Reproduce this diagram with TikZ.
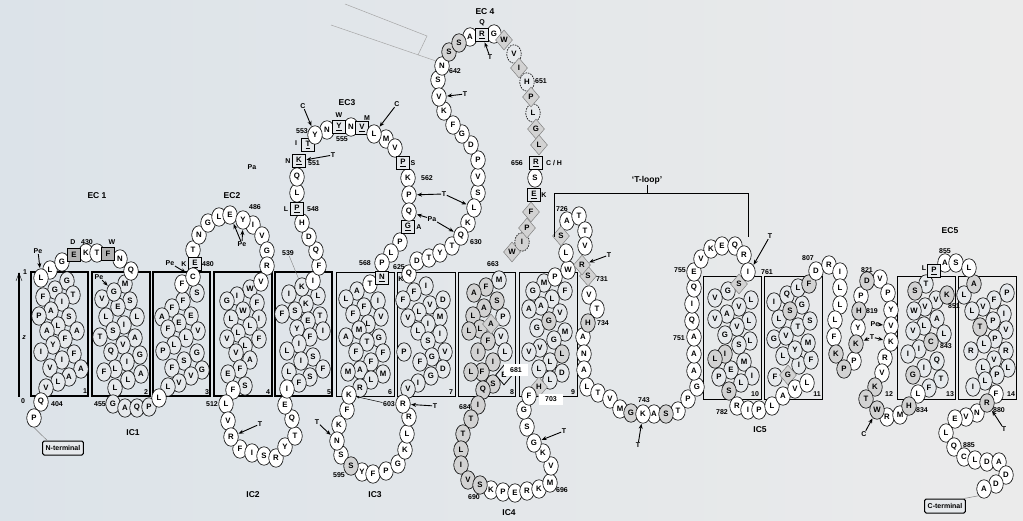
\documentclass[tikz,border=0pt]{standalone}
\usepackage{fontspec}
\setmainfont{Liberation Sans}
\usetikzlibrary{shapes.geometric,arrows.meta}
\definecolor{bgleft}{HTML}{DCE3E9}
\definecolor{bgright}{HTML}{EBEBEB}
\definecolor{resfill}{HTML}{E6E9EC}
\definecolor{resgray}{HTML}{D2D2D2}
\newcommand\resfont{\fontsize{7.8}{8}\selectfont\bfseries}
\newcommand\labfont{\fontsize{7}{8}\selectfont\bfseries}
\newcommand\ttlfont{\fontsize{8.5}{9}\selectfont\bfseries}
\tikzset{
  res/.style={ellipse, draw, line width=0.6pt, fill=resfill, minimum width=14.5pt, minimum height=18.5pt, inner sep=0pt, font=\resfont},
  wres/.style={res, fill=white},
  gres/.style={res, fill=resgray},
  dres/.style={res, dash pattern=on 1.6pt off 1pt},
  gdres/.style={gres, dash pattern=on 1.6pt off 1pt},
  dia/.style={diamond, draw=gray, fill=resgray, line width=0.5pt, minimum width=17pt, minimum height=20pt, inner sep=0pt, font=\resfont},
  bdia/.style={dia, draw=black, fill=resfill, line width=0.8pt},
  sqres/.style={rectangle, draw, line width=0.9pt, fill=resfill, minimum size=13pt, inner sep=0pt, font=\resfont},
  dsqres/.style={sqres, line width=1.8pt, fill=gray!60},
  lab/.style={font=\labfont, inner sep=0.5pt},
  ttl/.style={font=\ttlfont, inner sep=1pt},
  helix/.style={draw, line width=2pt},
  thinhelix/.style={draw, line width=0.9pt},
  arr/.style={-{Stealth[length=5pt,width=4pt]}, line width=0.9pt, shorten >=0.5pt},
  tbox/.style={draw, line width=1pt, rounded corners=1.5pt, font=\labfont, minimum height=14pt, inner xsep=3pt, fill=resfill}
}
\begin{document}
\begin{tikzpicture}[x=1pt,y=-1pt]
\fill[left color=bgleft, right color=bgright] (0,0) rectangle (1023,521);
\useasboundingbox (0,0) rectangle (1023,521);

% membrane axis and helix boxes
\draw[line width=1.6pt] (19,273) -- (19,397);
\draw[line width=0.4pt] (16,281) -- (19,273) -- (22,281);
\node[lab] (ax1) at (25,272) {1};
\node[lab] (axz) at (24,338) {\textit{z}};
\node[lab] (ax0) at (23,401) {0};
\foreach \xa/\xb in {31/88, 92/150, 153/210, 214/272, 275/332}
  \draw[helix] (\xa,272) rectangle (\xb,396);
\foreach \xa/\xb in {336/394, 397/455, 458/515, 519/577}
  \draw[thinhelix] (\xa,272) rectangle (\xb,396);
\foreach \xa/\xb in {703/761, 764/822, 897/955, 958/1016}
  \draw[thinhelix] (\xa,276) rectangle (\xb,399);
\foreach \xx/\yy/\txt [count=\i] in {85/391/1, 146/392/2, 207/392/3, 268/392/4, 329/392/5,
    390/392/6, 451/392/7, 512/392/8, 573/392/9, 755/394/10, 817/394/11, 889/394/12, 950/394/13, 1011/394/14}
  \node[lab] (hn\i) at (\xx,\yy) {\txt};

% residues inside the helices
\foreach \xx/\yy/\rr [count=\i] in {67/281/G, 55/290/G, 73/295/T, 43/297/F, 62/302/I, 51/311/A, 39/316/P, 69/317/S,
    58/326/L, 47/331/A, 77/331/A, 65/339/F, 53/345/Y, 41/352/I, 74/354/F, 62/360/I, 50/368/V, 81/369/A, 69/377/A,
    58/382/L, 46/388/V}
  \node[res] (ha\i) at (\xx,\yy) {\rr};
\foreach \xx/\yy/\rr [count=\i] in {125/284/M, 102/299/V, 130/301/S, 118/307/E, 106/317/L, 137/317/L, 124/325/I,
    113/331/S, 100/337/T, 135/338/A, 123/345/V, 111/352/Q, 140/355/G, 127/362/I, 115/369/L, 104/372/F, 141/374/A,
    128/380/L, 115/388/L, 113/404/G, 125/408/A, 137/408/Q, 149/407/P}
  \node[res] (hb\i) at (\xx,\yy) {\rr};
\foreach \xx/\yy/\rr [count=\i] in {197/293/S, 183/301/F, 172/308/F, 162/317/A, 191/316/E, 179/323/E, 168/329/F,
    198/331/V, 186/338/L, 174/345/L, 163/351/P, 197/353/G, 184/361/S, 172/368/F, 202/370/G, 191/376/V, 179/383/V,
    168/387/L}
  \node[res] (hc\i) at (\xx,\yy) {\rr};
\foreach \xx/\yy/\rr [count=\i] in {250/289/W, 237/296/I, 227/301/G, 257/303/F, 243/311/W, 231/319/L, 259/319/I,
    250/326/L, 238/333/L, 227/339/V, 259/339/F, 245/346/L, 236/353/V, 250/360/A, 240/369/F, 228/374/E, 245/386/S}
  \node[res] (hd\i) at (\xx,\yy) {\rr};
\foreach \xx/\yy/\rr [count=\i] in {289/294/I, 318/296/L, 306/304/K, 295/311/S, 282/314/F, 320/316/T, 308/321/E,
    297/329/Y, 323/331/I, 310/337/F, 299/344/I, 287/351/L, 313/357/S, 301/361/I, 323/369/F, 289/372/L, 310/377/S,
    299/383/F}
  \node[res] (he\i) at (\xx,\yy) {\rr};
\node[res] (k539) at (302,287) {K};
\foreach \xx/\yy/\rr [count=\i] in {357/291/A, 346/299/L, 378/301/I, 364/307/F, 353/314/F, 381/317/V, 368/324/L,
    359/330/M, 346/337/A, 379/338/G, 367/342/T, 356/352/F, 383/353/F, 371/362/F, 360/370/A, 348/372/M, 383/374/M,
    371/380/L, 360/388/R}
  \node[res] (hf\i) at (\xx,\yy) {\rr};
\foreach \xx/\yy/\rr [count=\i] in {426/286/I, 414/292/F, 403/300/F, 430/305/V, 443/300/D, 419/312/L, 408/318/V,
    440/317/M, 428/324/I, 418/331/L, 440/334/I, 428/341/S, 404/352/P, 445/352/V, 432/357/G, 420/362/F, 443/369/D,
    431/376/G, 418/383/I, 408/389/V}
  \node[res] (hg\i) at (\xx,\yy) {\rr};
\foreach \xx/\yy/\rr [count=\i] in {499/280/M, 503/317/P, 501/337/V, 505/352/L}
  \node[res] (hh\i) at (\xx,\yy) {\rr};
\foreach \xx/\yy/\rr [count=\i] in {486/287/F, 474/293/A, 497/301/S, 484/308/A, 473/316/L, 480/329/L, 469/331/L,
    488/341/F, 478/352/I, 493/362/I, 482/372/F, 471/372/L, 493/384/S, 483/390/Q}
  \node[gres] (hgr\i) at (\xx,\yy) {\rr};
\node[dia] (a8) at (491,324) {A};
\node[bdia] (e8) at (504,375) {E};
\foreach \xx/\yy/\rr [count=\i] in {544/283/M, 533/291/G, 565/291/F, 552/299/L, 541/306/A, 529/309/A, 560/313/V,
    537/328/G, 565/332/M, 554/340/G, 540/348/V, 529/352/V, 550/362/L, 539/369/L, 562/373/D, 550/380/L}
  \node[res] (hi\i) at (\xx,\yy) {\rr};
\foreach \xx/\yy/\rr [count=\i] in {549/321/G, 562/354/L}
  \node[gres] (hig\i) at (\xx,\yy) {\rr};
\node[dia] (h703) at (539,387) {H};
\foreach \xx/\yy/\rr [count=\i] in {728/291/G, 715/298/V, 751/300/L, 739/307/V, 727/314/A, 715/319/V, 749/321/L,
    737/327/V, 725/335/G, 750/341/L, 739/345/S, 744/362/M, 731/370/E, 719/377/P, 752/376/I, 741/383/L}
  \node[res] (hj\i) at (\xx,\yy) {\rr};
\foreach \xx/\yy/\rr [count=\i] in {725/354/I, 715/359/L, 729/391/S}
  \node[gres] (hjg\i) at (\xx,\yy) {\rr};
\node[dia] (s10) at (739,284) {S};
\foreach \xx/\yy/\rr [count=\i] in {775/377/F, 799/365/I, 811/360/F, 783/356/L, 795/350/Y, 808/343/M, 774/339/G,
    786/336/V, 798/327/T, 810/321/S, 779/319/L, 802/305/G, 774/302/I, 787/295/Q, 798/288/L}
  \node[res] (hk\i) at (\xx,\yy) {\rr};
\foreach \xx/\yy/\rr [count=\i] in {790/311/S, 809/284/F}
  \node[gres] (hkg\i) at (\xx,\yy) {\rr};
\node[dia] (g11) at (788,375) {G};
\foreach \xx/\yy/\rr [count=\i] in {926/284/T, 936/300/V, 925/307/V, 914/311/W, 937/319/A, 924/326/L, 913/331/V,
    944/334/L, 919/349/I, 908/354/I, 937/361/Q, 924/368/I, 941/379/T, 929/388/F}
  \node[res] (hm\i) at (\xx,\yy) {\rr};
\foreach \xx/\yy/\rr [count=\i] in {915/291/S, 947/295/K, 931/342/C, 913/375/G}
  \node[gres] (hmg\i) at (\xx,\yy) {\rr};
\foreach \xx/\yy/\rr [count=\i] in {964/295/L, 1007/293/P, 994/300/F, 983/307/V, 972/311/L, 1004/314/I, 993/321/P,
    1006/330/V, 995/339/P, 984/344/L, 971/351/R, 1006/351/R, 994/360/V, 983/368/L, 1008/368/L, 997/375/P,
    985/381/L, 973/387/I}
  \node[res] (hn\i) at (\xx,\yy) {\rr};
\foreach \xx/\yy/\rr [count=\i] in {974/284/A, 980/327/T}
  \node[gres] (hng\i) at (\xx,\yy) {\rr};

% loops: exposed residues
\foreach \xx/\yy/\rr [count=\i] in {41/402/Q, 50/270/L, 62/262/G, 86/253/K, 97/253/T, 120/259/N, 131/271/Q,
    159/398/L, 182/284/F, 193/250/T, 199/235/N, 208/223/G, 219/217/L, 253/225/I, 262/236/V, 267/251/G, 267/266/R,
    261/282/V, 233/390/F, 226/404/L, 228/421/V, 240/449/F, 252/453/I, 264/456/S, 276/458/R, 285/447/Y, 295/436/T,
    292/419/Q, 285/405/E, 287/389/I, 313/281/I, 319/266/F, 316/251/Q, 309/237/D, 302/223/H, 297/193/L, 297/177/Q,
    327/130/N, 351/127/N, 386/139/M, 395/148/V, 408/178/K, 400/242/P, 391/253/L, 382/263/P, 370/284/T}
  \node[wres] (wa\i) at (\xx,\yy) {\rr};
\foreach \xx/\yy/\rr [count=\i] in {347/410/F, 339/425/K, 341/455/S, 362/472/Y, 373/474/F, 386/471/P, 398/464/G,
    405/450/K, 407/434/L, 409/417/R, 409/274/Q, 417/261/D, 429/258/T, 440/253/Y, 452/246/T, 468/223/K, 478/193/S,
    478/177/V, 478/160/P, 471/145/D, 462/134/G, 453/125/F, 444/111/K, 438/80/S, 442/66/N, 470/37/A, 494/34/G,
    535/178/S}
  \node[wres] (wb\i) at (\xx,\yy) {\rr};
\foreach \xx/\yy/\rr [count=\i] in {491/490/K, 503/492/P, 515/493/E, 527/491/R, 539/489/K, 550/483/M, 551/466/V,
    543/453/K, 527/427/S, 524/410/G, 529/396/F, 555/277/P, 568/270/W, 566/253/L, 567/221/A, 579/216/T, 585/231/T,
    585/246/V, 589/295/V, 597/309/T, 583/337/A, 584/354/N, 584/370/A, 587/387/L, 598/393/T, 610/399/V, 620/409/M,
    654/414/A, 678/411/T, 688/399/P, 697/387/G, 694/371/A, 694/354/A, 694/337/A, 692/321/Q, 692/304/I, 694/288/Q,
    694/272/E, 701/259/V, 711/249/K, 722/246/E, 735/246/Q, 744/255/R}
  \node[wres] (wc\i) at (\xx,\yy) {\rr};
\foreach \xx/\yy/\rr [count=\i] in {737/406/R, 748/410/I, 759/410/P, 772/406/L, 783/396/A, 795/389/V, 807/383/L,
    816/271/D, 829/265/R, 840/272/I, 840/288/L, 840/305/L, 835/320/L, 834/337/F, 854/361/P, 858/328/Y, 861/296/P,
    880/279/V, 888/293/P, 891/310/Y, 885/358/R, 882/373/V, 887/417/R, 900/415/M, 918/394/L, 945/263/A, 956/263/S,
    969/268/L, 996/394/F, 977/413/N, 966/417/V, 955/419/E, 946/433/L, 954/447/Q, 964/457/C, 975/460/L, 987/462/D,
    999/462/A, 1006/475/D, 996/484/D}
  \node[wres] (wd\i) at (\xx,\yy) {\rr};
\foreach \xx/\yy/\rr [count=\i] in {351/466/S, 449/52/S, 459/43/S, 478/405/I, 471/419/T, 463/434/T, 461/450/L,
    461/465/I, 468/480/V, 480/485/S, 588/323/H, 631/413/G, 666/414/S, 836/354/K, 844/369/P, 859/311/H, 867/281/D,
    875/387/K, 866/399/T, 909/406/H}
  \node[gres] (ga\i) at (\xx,\yy) {\rr};
\foreach \xx/\yy/\rr [count=\i] in {514/54/V, 527/82/H, 533/113/L}
  \node[dres] (da\i) at (\xx,\yy) {\rr};
\node[gdres] (i659) at (522,242) {I};
\foreach \xx/\yy/\rr [count=\i] in {504/40/W, 519/68/I, 531/97/P, 536/129/G, 539/145/L, 531/212/F, 527/228/P,
    512/252/W, 561/236/S, 588/276/S}
  \node[dia] (ma\i) at (\xx,\yy) {\rr};
\foreach \xx/\yy/\rr [count=\i] in {195/264/E, 297/209/P, 308/145/T, 339/127/Y, 362/128/V, 403/163/P, 408/227/G,
    382/278/N, 536/163/R, 534/195/E, 934/271/P}
  \node[sqres] (sa\i) at (\xx,\yy) {\underline{\rr}};
\node[dsqres] (e430) at (74,255) {E};
\node[dsqres] (f433) at (108,254) {F};

% residues pointed at
\node[wres] (p403) at (34,418) {P};
\node[wres] (l423) at (41,278) {L};
\node[res] (g459) at (114,292) {G};
\node[wres] (c479) at (193,277) {C};
\node[wres] (e485) at (230,215) {E};
\node[wres] (y486) at (243,220) {Y};
\node[wres] (r516) at (231,437) {R};
\node[sqres] (k551) at (299,161) {\underline{K}};
\node[wres] (y553) at (315,135) {Y};
\node[wres] (l558) at (374,134) {L};
\node[wres] (p563) at (409,195) {P};
\node[wres] (q564) at (409,212) {Q};
\node[wres] (k590) at (349,395) {K};
\node[wres] (n593) at (337,441) {N};
\node[wres] (r603) at (403,404) {R};
\node[wres] (q630) at (461,236) {Q};
\node[wres] (l632) at (474,208) {L};
\node[wres] (v640) at (439,97) {V};
\node[sqres] (r646) at (482,35) {\underline{R}};
\node[wres] (g699) at (534,443) {G};
\node[dia] (r730) at (582,265) {R};
\node[wres] (k743) at (643,414) {K};
\node[wres] (i761) at (748,272) {I};
\node[gres] (k824) at (856,344) {K};
\node[wres] (v827) at (891,326) {V};
\node[wres] (k828) at (891,342) {K};
\node[gres] (w832) at (877,410) {W};
\node[gres] (r880) at (987,403) {R};
\node[wres] (a894) at (984,489) {A};

% termini
\node[tbox] (nterm) at (63,448) {N-terminal};
\node[tbox] (cterm) at (945,506) {C-terminal};
\draw[gray, line width=0.5pt] (p403.south) -- ([xshift=5pt]nterm.north west);
\draw[gray, line width=0.5pt] (a894.south west) -- ([xshift=-2pt]cterm.north east);

% numbers and substitutions
\foreach \xx/\yy/\txt [count=\i] in {57/404/404, 87/242/430, 73/242/D, 112/242/W, 100/404/455, 184/264/K, 208/264/480,
    255/207/486, 212/404/512, 286/209/L, 313/209/548, 288/161/N, 314/163/551, 296/143/I, 302/131/553, 339/115/W,
    342/139/555, 367/118/M, 413/163/S, 252/167/Pa, 427/178/562, 419/227/A, 365/263/568, 401/279/K, 476/242/630,
    399/267/625, 389/404/603, 339/475/595, 455/71/642, 482/23/Q, 541/81/651, 517/163/656, 544/195/K, 493/264/663,
    465/407/684, 474/497/690, 562/490/696, 562/209/726, 602/279/731, 603/323/734, 644/400/743, 679/338/751,
    680/270/755, 767/272/761, 722/412/782, 808/258/807, 872/311/819, 867/270/821, 922/410/834, 924/268/L,
    945/251/855, 954/306/851, 946/346/843, 999/410/880, 969/445/885}
  \node[lab] (nb\i) at (\xx,\yy) {\txt};
\node[lab] (ch656) at (554,163) {C / H};
\node[lab, fill=white, minimum width=24pt, minimum height=11pt] (n681) at (516,370) {681};
\node[lab, fill=white, minimum width=24pt, minimum height=11pt] (n703) at (551,399) {703};
\node[lab] (l539) at (288,253) {539};
\draw[gray, line width=0.4pt] (l539) -- (k539);

% region titles
\node[ttl] (ec1) at (97,196) {EC 1};
\node[ttl] (ec2) at (232,196) {EC2};
\node[ttl] (ec3) at (347,103) {EC3};
\node[ttl] (ec4) at (485,12) {EC 4};
\node[ttl] (ec5) at (950,231) {EC5};
\node[ttl] (ic1) at (133,433) {IC1};
\node[ttl] (ic2) at (253,495) {IC2};
\node[ttl] (ic3) at (375,495) {IC3};
\node[ttl] (ic4) at (509,513) {IC4};
\node[ttl] (ic5) at (760,430) {IC5};
\node[ttl] (tloop) at (647,180) {`T-loop'};
\draw[line width=0.8pt] (554,237) |- (748,193) -- (748,237);
\draw[line width=0.8pt] (647,193) -- (tloop.south);
\draw[gray!70, line width=0.5pt] (345,4) -- (427,36) -- (418,55);
\draw[gray!70, line width=0.5pt] (331,25) -- (436,61);

% pointers
\node[lab] (pe1) at (38,251) {Pe};
\node[lab] (pe2) at (99,277) {Pe};
\node[lab] (pe3) at (170,263) {Pe};
\node[lab] (pe4) at (242,244) {Pe};
\node[lab] (pe5) at (875,324) {Pe};
\node[lab] (pa2) at (432,219) {Pa};
\node[lab] (c1) at (303,106) {C};
\node[lab] (c2) at (397,104) {C};
\node[lab] (c3) at (864,434) {C};
\node[lab] (t1) at (260,424) {T};
\node[lab] (t2) at (333,155) {T};
\node[lab] (t3) at (444,194) {T};
\node[lab] (t4) at (317,422) {T};
\node[lab] (t5) at (435,406) {T};
\node[lab] (t6) at (465,94) {T};
\node[lab] (t7) at (490,57) {T};
\node[lab] (t8) at (564,431) {T};
\node[lab] (t9) at (609,255) {T};
\node[lab] (t10) at (638,445) {T};
\node[lab] (t11) at (770,236) {T};
\node[lab] (t12) at (872,337) {T};
\node[lab] (t13) at (1004,429) {T};
\draw[arr] (pe1) -- (l423);
\draw[arr] (pe2) -- (g459);
\draw[arr] (pe3) -- (c479);
\draw[arr] (pe4) -- (e485);
\draw[arr] (pe4) -- (y486);
\draw[arr] (pe5) -- (v827);
\draw[arr] (pa2) -- (q564);
\draw[arr] (pa2) -- (q630);
\draw[arr] (c1) -- (y553);
\draw[arr] (c2) -- (l558);
\draw[arr] (c3) -- (w832);
\draw[arr] (t1) -- (r516);
\draw[arr] (t2) -- (k551);
\draw[arr] (t3) -- (p563);
\draw[arr] (t3) -- (l632);
\draw[arr] (t4) -- (n593);
\draw[arr] (t5) -- (r603);
\draw[arr] (t6) -- (v640);
\draw[arr] (t7) -- (r646);
\draw[arr] (t8) -- (g699);
\draw[arr] (t9) -- (r730);
\draw[arr] (t10) -- (k743);
\draw[arr] (t11) -- (i761.north east);
\draw[arr] (t12) -- (k824);
\draw[arr] (t12) -- (k828);
\draw[arr] (t13) -- (r880);
\draw[-{Stealth[length=3pt,width=2.5pt]}, line width=0.5pt] (nb27) -- (k590);
\end{tikzpicture}
\end{document}
